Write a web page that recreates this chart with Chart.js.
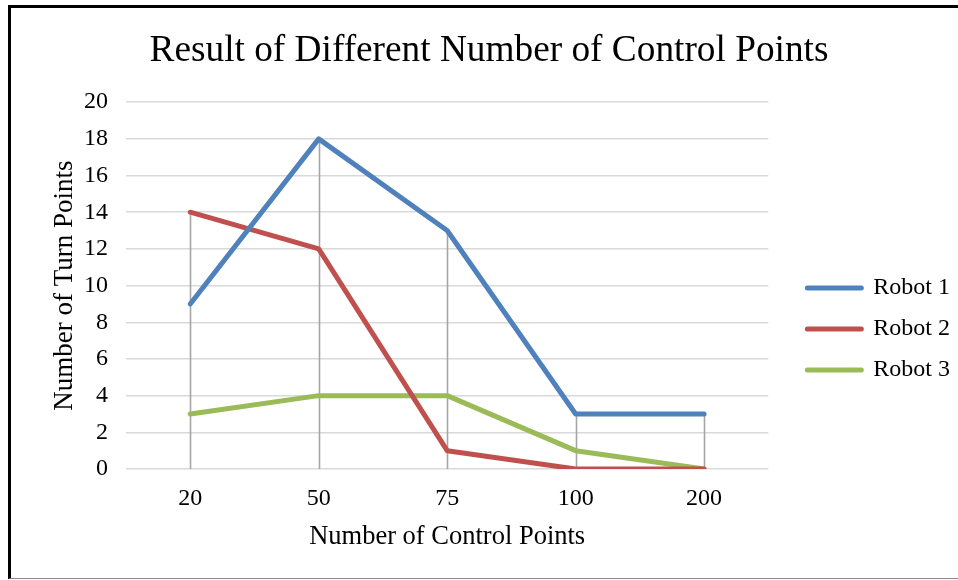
<!DOCTYPE html>
<html>
<head>
<meta charset="utf-8">
<script src="https://cdn.jsdelivr.net/npm/chart.js@4/dist/chart.umd.min.js"></script>
<style>
  html, body { margin: 0; padding: 0; background: #fff; overflow: hidden; width: 958px; height: 580px; }
  #frame {
    position: absolute; left: 8px; top: 5px; width: 1000px; height: 570px;
    border-left: 3px solid #000; border-top: 3px solid #000; border-bottom: 1px solid #8c8c8c;
    box-sizing: content-box;
  }
  #chart { position: absolute; left: 0; top: 0; }
</style>
</head>
<body>
<div id="frame"><canvas id="chart" width="956" height="570"></canvas></div>
<script>
// Number of control points tested
const categories = ['20', '50', '75', '100', '200'];
// Number of turn points for each robot
const robot1 = [9, 18, 13, 3, 3];
const robot2 = [14, 12, 1, 0, 0];
const robot3 = [3, 4, 4, 1, 0];
const seriesNames = ['Robot 1', 'Robot 2', 'Robot 3'];
const seriesColors = ['#4F81BD', '#C0504D', '#9BBB59'];

const serif = "'Liberation Serif', 'Times New Roman', serif";
Chart.defaults.color = '#000';
Chart.defaults.font.family = serif;

// Vertical drop lines from the highest series value down to the category axis
const dropLines = {
  id: 'dropLines',
  beforeDatasetsDraw(chart) {
    const { ctx, scales: { x, y } } = chart;
    ctx.save();
    ctx.strokeStyle = '#A6A6A6';
    ctx.lineWidth = 1.6;
    categories.forEach((c, i) => {
      const top = Math.max(...chart.data.datasets.map(d => d.data[i]));
      const px = Math.round(x.getPixelForValue(i)) + 0.5;
      ctx.beginPath();
      ctx.moveTo(px, y.getPixelForValue(top));
      ctx.lineTo(px, y.getPixelForValue(0));
      ctx.stroke();
    });
    ctx.restore();
  }
};

// Nudge the legend block beside the plot and centre the title on the whole canvas
const boxOffsets = {
  id: 'boxOffsets',
  afterLayout(chart) {
    const lg = chart.legend;
    const dx = 22, dy = 36;
    lg.left += dx; lg.right += dx;
    lg.top += dy; lg.bottom += dy;
    const t = chart.titleBlock;
    if (t) {
      const shift = (chart.width - (t.left + t.right)) / 2;
      t.left += shift; t.right += shift;
    }
  }
};

new Chart(document.getElementById('chart'), {
  type: 'line',
  data: {
    labels: categories,
    datasets: [robot1, robot2, robot3].map((vals, k) => ({
      label: seriesNames[k],
      data: vals,
      borderColor: seriesColors[k],
      backgroundColor: seriesColors[k],
      borderWidth: 5,
      borderCapStyle: 'round',
      borderJoinStyle: 'round',
      pointRadius: 0,
      pointHoverRadius: 0,
      tension: 0,
      fill: false
    }))
  },
  options: {
    responsive: false,
    animation: false,
    events: [],
    layout: { padding: { top: 0, left: 0, bottom: 0, right: 29 } },
    plugins: {
      tooltip: { enabled: false },
      title: {
        display: true,
        text: 'Result of Different Number of Control Points',
        color: '#000',
        font: { family: serif, size: 37.3, weight: 'normal', lineHeight: 1.2 },
        padding: { top: 21, bottom: 28.4 }
      },
      legend: {
        position: 'right',
        align: 'center',
        labels: {
          usePointStyle: true,
          pointStyle: 'line',
          pointStyleWidth: 54,
          boxHeight: 4,
          padding: 17,
          color: '#000',
          font: { family: serif, size: 24 },
          generateLabels(chart) {
            return chart.data.datasets.map((d, i) => ({
              text: d.label,
              fillStyle: d.borderColor,
              strokeStyle: d.borderColor,
              lineWidth: 5,
              lineCap: 'round',
              pointStyle: 'line',
              datasetIndex: i,
              hidden: false
            }));
          }
        }
      }
    },
    scales: {
      x: {
        offset: true,
        grid: { display: false, drawTicks: false },
        border: { display: false },
        ticks: { padding: 15, font: { family: serif, size: 24 }, color: '#000' },
        title: {
          display: true,
          text: 'Number of Control Points',
          color: '#000',
          font: { family: serif, size: 26.5, lineHeight: 1.2 },
          padding: { top: 0, bottom: 25.4 }
        },
        afterFit(s) { s.height = 109; }
      },
      y: {
        min: 0,
        max: 20,
        ticks: { stepSize: 2, padding: 18, font: { family: serif, size: 24 }, color: '#000' },
        grid: { color: '#D9D9D9', lineWidth: 1.5, drawTicks: false },
        border: { display: false },
        title: {
          display: true,
          text: 'Number of Turn Points',
          color: '#000',
          font: { family: serif, size: 27, lineHeight: 1.2 },
          padding: { top: 38, bottom: 0 }
        },
        afterFit(s) { s.width = 115; }
      }
    }
  },
  plugins: [dropLines, boxOffsets]
});
</script>
</body>
</html>
